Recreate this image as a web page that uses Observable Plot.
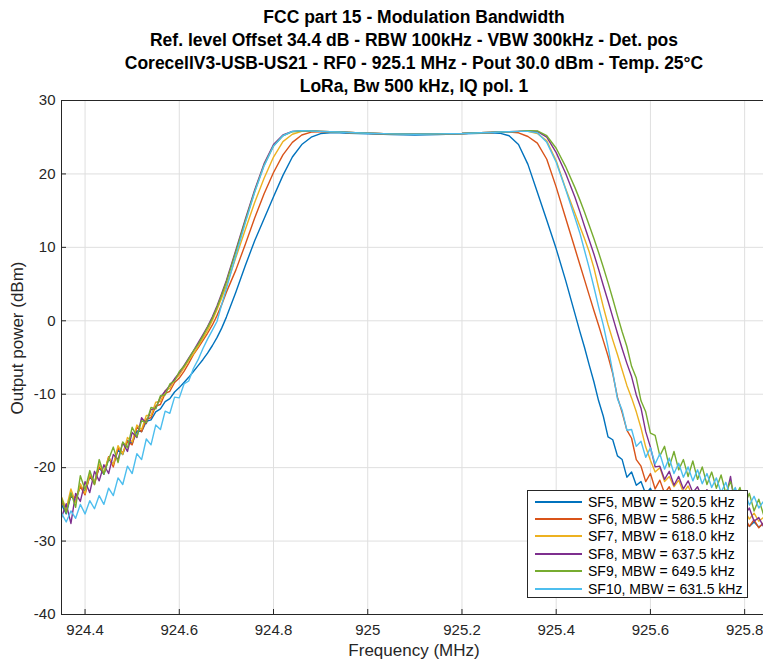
<!DOCTYPE html>
<html>
<head>
<meta charset="utf-8">
<script src="https://cdn.jsdelivr.net/npm/d3@7"></script>
<script src="https://cdn.jsdelivr.net/npm/@observablehq/plot@0.6"></script>
<style>
  html, body { margin: 0; padding: 0; background: #fff; overflow: hidden; }
  #wrap { position: relative; width: 763px; height: 661px; font-family: "Liberation Sans", Arial, sans-serif; color: #000; }
  #title { position: absolute; left: 0; top: 6px; width: 828px; text-align: center; font-weight: bold; font-size: 17.5px; line-height: 23px; color: #000; }
  #xlabel { position: absolute; left: 0; width: 828px; top: 641px; text-align: center; font-size: 17px; color: #262626; }
  #ylabel { position: absolute; left: 18px; top: 338px; transform: translate(-50%, -50%) rotate(-90deg); font-size: 17px; color: #262626; white-space: nowrap; }
  #legend { position: absolute; left: 527px; top: 490px; width: 221px; height: 108px; background: #fff; border: 1px solid #262626; box-sizing: border-box; font-size: 14px; color: #000; }
  .row { position: absolute; left: 0; height: 17px; display: flex; align-items: center; white-space: nowrap; }
  .sw { width: 47px; height: 0; border-top: 2px solid; margin-left: 7px; margin-right: 6px; flex: none; }
</style>
</head>
<body>
<div id="wrap">
  <div id="chart"></div>
  <div id="title"></div>
  <div id="xlabel">Frequency (MHz)</div>
  <div id="ylabel">Output power (dBm)</div>
  <div id="legend"></div>
</div>
<script>
const titleLines = [
  "FCC part 15 - Modulation Bandwidth",
  "Ref. level Offset 34.4 dB - RBW 100kHz - VBW 300kHz - Det. pos",
  "CorecellV3-USB-US21 - RF0 - 925.1 MHz - Pout 30.0 dBm - Temp. 25°C",
  "LoRa, Bw 500 kHz, IQ pol. 1"
];
const xTicks = [924.4, 924.6, 924.8, 925, 925.2, 925.4, 925.6, 925.8];
const yTicks = [-40, -30, -20, -10, 0, 10, 20, 30];
const seriesNames = ["SF5, MBW = 520.5 kHz", "SF6, MBW = 586.5 kHz", "SF7, MBW = 618.0 kHz", "SF8, MBW = 637.5 kHz", "SF9, MBW = 649.5 kHz", "SF10, MBW = 631.5 kHz"];
const seriesColors = ["#0072BD", "#D95319", "#EDB120", "#7E2F8E", "#77AC30", "#4DBEEE"];

// frequency (MHz)
const freq = [
  924.35,924.36,924.37,924.38,924.39,924.40,924.41,924.42,924.43,924.44,924.45,924.46,924.47,924.48,924.49,924.50,924.51,924.52,924.53,924.54,924.55,924.56,924.57,924.58,924.59,924.60,924.61,924.62,924.63,924.64,924.65,924.66,924.67,924.68,924.69,924.70,
  924.72,924.74,924.76,924.78,924.80,924.82,924.84,924.86,924.88,924.90,924.92,924.94,924.96,
  925.00,925.05,925.10,925.15,925.20,
  925.24,925.26,925.28,925.30,925.32,925.34,925.36,925.38,925.40,925.42,925.44,
  925.45,925.46,925.47,925.48,925.49,925.50,925.51,925.52,925.53,925.54,925.55,925.56,925.57,925.58,925.59,925.60,925.61,925.62,925.63,925.64,925.65,925.66,925.67,925.68,925.69,925.70,925.71,925.72,925.73,925.74,925.75,925.76,925.77,925.78,925.79,925.80,925.81,925.82,925.83,925.84
];

const sf5 = [
  -25.0,-26.3,-23.8,-24.6,-22.5,-23.3,-21.2,-22.0,-20.0,-20.9,-18.8,-19.6,-17.6,-18.2,-16.3,-16.7,-15.0,-15.1,-13.7,-13.5,-12.4,-12.0,-11.0,-10.6,-9.7,-9.1,-8.4,-7.7,-6.9,-6.1,-5.3,-4.4,-3.4,-2.3,-1.0,0.5,
  3.9,7.5,10.9,13.9,16.9,19.8,22.3,24.0,25.0,25.5,25.6,25.6,25.55,
  25.45,25.35,25.3,25.35,25.45,
  25.55,25.6,25.55,25.2,24.0,21.3,17.5,13.7,9.8,5.5,0.9,
  -1.4,-3.6,-6.0,-8.3,-10.9,-13.0,-15.8,-16.2,-18.4,-18.9,-21.3,-20.6,-22.4,-21.9,-23.6,-22.8,-24.3,-23.5,-24.9,-24.1,-25.4,-24.6,-25.8,-25.1,-26.2,-25.5,-26.6,-25.9,-27.0,-26.3,-27.3,-26.6,-27.6,-26.9,-27.8,-27.2,-28.0,-27.4,-28.1,-27.6
];
const sf6 = [
  -24.6,-25.9,-23.8,-24.1,-22.6,-23.7,-21.0,-22.3,-19.9,-20.8,-18.5,-19.9,-17.3,-18.0,-16.4,-16.9,-14.5,-15.1,-13.4,-13.2,-11.6,-11.4,-9.9,-9.6,-8.4,-7.8,-6.9,-5.8,-4.6,-3.7,-2.7,-1.7,-0.6,0.7,2.2,3.9,
  6.9,10.4,14.0,17.3,20.2,22.6,24.3,25.3,25.7,25.75,25.75,25.7,25.65,
  25.55,25.45,25.4,25.45,25.5,
  25.6,25.65,25.7,25.7,25.6,25.1,24.2,22.0,18.2,14.0,9.8,
  7.7,5.6,3.5,1.4,-0.6,-2.7,-4.8,-7.2,-10.4,-12.5,-14.9,-16.0,-18.9,-19.8,-21.9,-20.8,-22.9,-21.7,-23.5,-22.6,-24.2,-23.1,-24.8,-23.9,-25.3,-24.4,-25.9,-25.0,-26.3,-25.5,-26.8,-25.9,-27.2,-26.4,-27.6,-26.8,-28.0,-27.1,-28.2,-27.5
];
const sf7 = [
  -24.0,-25.6,-22.9,-24.8,-22.2,-23.5,-20.8,-22.0,-19.5,-20.7,-18.6,-19.6,-17.0,-18.2,-15.9,-16.5,-14.2,-14.8,-12.9,-12.9,-11.1,-11.0,-9.5,-9.2,-8.0,-7.4,-6.4,-5.4,-4.5,-3.5,-2.4,-1.3,0.0,1.5,3.1,4.8,
  8.6,12.4,16.1,19.4,22.3,24.4,25.4,25.8,25.85,25.8,25.75,25.7,25.65,
  25.55,25.45,25.4,25.45,25.5,
  25.6,25.65,25.7,25.75,25.8,25.8,25.5,24.5,21.8,18.0,14.6,
  12.9,11.2,9.4,7.2,4.5,1.9,-0.5,-2.6,-4.6,-6.7,-8.8,-10.5,-12.4,-14.6,-17.2,-19.0,-20.6,-20.0,-21.9,-21.2,-22.6,-21.7,-23.4,-22.5,-24.0,-23.1,-24.7,-23.8,-25.2,-24.3,-25.8,-24.9,-26.1,-25.4,-26.6,-25.9,-27.0,-26.2,-27.3,-26.8
];
const sf8 = [
  -26.8,-24.9,-27.6,-23.5,-24.6,-21.9,-23.4,-20.5,-21.8,-19.6,-20.8,-18.2,-18.9,-16.6,-17.8,-15.2,-15.9,-13.2,-14.0,-12.1,-11.9,-10.4,-9.6,-8.8,-7.9,-7.1,-6.1,-5.1,-4.1,-3.0,-1.9,-0.8,0.5,2.0,3.7,5.5,
  9.6,13.8,17.8,21.4,24.0,25.3,25.8,25.85,25.85,25.8,25.75,25.7,25.65,
  25.55,25.45,25.4,25.45,25.5,
  25.6,25.65,25.7,25.75,25.8,25.85,25.8,25.0,22.9,20.1,16.8,
  14.9,12.9,11.0,9.1,7.0,4.8,2.7,0.5,-1.7,-3.8,-5.8,-7.6,-10.1,-11.9,-15.1,-17.2,-19.9,-19.8,-21.6,-20.5,-22.4,-21.2,-22.9,-21.8,-23.4,-22.6,-24.1,-23.0,-24.6,-23.5,-25.2,-24.1,-21.2,-25.6,-24.8,-26.4,-25.5,-27.3,-26.8,-28.0
];
const sf9 = [
  -24.1,-26.2,-23.4,-25.4,-21.1,-23.0,-20.4,-22.3,-18.9,-20.9,-18.9,-17.2,-19.3,-16.5,-17.3,-14.5,-15.8,-13.6,-13.9,-11.8,-12.0,-10.2,-10.1,-8.6,-8.2,-6.9,-6.2,-5.2,-4.1,-3.2,-2.1,-0.9,0.3,1.8,3.5,5.3,
  9.4,13.6,17.6,21.2,23.8,25.2,25.75,25.85,25.85,25.8,25.75,25.7,25.65,
  25.55,25.45,25.4,25.45,25.5,
  25.6,25.65,25.7,25.75,25.8,25.9,25.85,25.2,23.5,21.0,18.1,
  16.5,14.8,13.0,11.2,9.3,7.3,5.2,3.0,0.7,-1.5,-3.5,-6.2,-7.8,-10.9,-12.4,-15.3,-15.6,-18.4,-17.1,-19.9,-17.8,-20.3,-18.9,-21.2,-19.1,-21.6,-19.9,-22.3,-20.6,-22.8,-21.0,-23.5,-21.9,-24.1,-22.7,-25.1,-23.5,-25.9,-24.3,-26.4
];
const sf10 = [
  -26.2,-27.4,-25.9,-26.9,-25.0,-26.3,-24.5,-25.6,-23.8,-25.0,-22.8,-23.8,-21.4,-22.3,-19.8,-20.8,-18.1,-18.9,-16.1,-16.9,-14.2,-14.8,-12.3,-12.6,-10.4,-10.5,-8.6,-8.2,-6.5,-5.3,-3.8,-2.5,-1.3,-0.1,2.2,4.4,
  8.9,13.3,17.5,21.1,23.8,25.2,25.8,25.9,25.85,25.8,25.75,25.7,25.65,
  25.55,25.45,25.4,25.45,25.5,
  25.6,25.65,25.7,25.75,25.8,25.8,25.6,24.3,21.6,17.9,14.0,
  12.0,9.6,7.2,4.6,1.9,-0.6,-3.6,-7.0,-10.6,-12.2,-14.9,-14.8,-17.1,-16.4,-18.6,-17.3,-19.5,-18.1,-20.2,-18.7,-20.8,-19.4,-21.3,-19.9,-21.8,-20.3,-22.2,-20.8,-22.7,-21.4,-23.4,-22.0,-24.0,-22.7,-24.5,-23.3,-25.1,-23.9,-25.5,-24.6
];
const seriesValues = [sf5, sf6, sf7, sf8, sf9, sf10];

const data = seriesValues.flatMap((vals, i) => freq.map((f, j) => ({f, v: vals[j], name: seriesNames[i]})));

const chart = Plot.plot({
  width: 763,
  height: 661,
  marginTop: 100,
  marginBottom: 47,
  marginLeft: 61,
  marginRight: 0,
  style: {fontFamily: "'Liberation Sans', Arial, sans-serif", fontSize: "15px", color: "#262626", background: "#fff"},
  x: {domain: [924.35, 925.84], label: null},
  y: {domain: [-40, 30], label: null},
  color: {domain: seriesNames, range: seriesColors},
  marks: [
    Plot.gridX(xTicks, {stroke: "#dfdfdf", strokeOpacity: 1}),
    Plot.gridY(yTicks, {stroke: "#dfdfdf", strokeOpacity: 1}),
    Plot.line(data, {x: "f", y: "v", z: "name", stroke: "name", strokeWidth: 1.4, clip: true}),
    Plot.ruleX([924.35], {stroke: "#262626"}),
    Plot.ruleY([-40, 30], {stroke: "#262626"}),
    Plot.axisX(xTicks, {tickSize: -5, tickPadding: 15, stroke: "#262626", fill: "#262626", fontSize: 15, tickFormat: d => String(d)}),
    Plot.axisY(yTicks, {tickSize: -5, tickPadding: 11, stroke: "#262626", fill: "#262626", fontSize: 15, tickFormat: d => String(d)})
  ]
});
document.getElementById("chart").appendChild(chart);
document.getElementById("title").innerHTML = titleLines.map(t => `<div>${t}</div>`).join("");
document.getElementById("legend").innerHTML = seriesNames.map((n, i) =>
  `<div class="row" style="top:${2 + i * 17.4}px"><div class="sw" style="border-color:${seriesColors[i]}"></div><span>${n}</span></div>`).join("");
</script>
</body>
</html>
